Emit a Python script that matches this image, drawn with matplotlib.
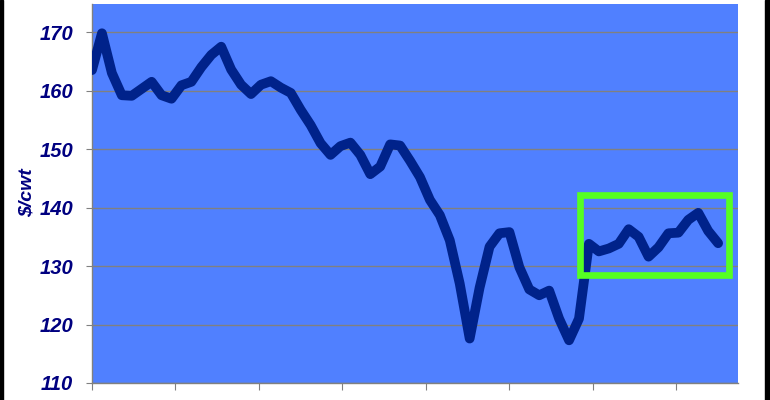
import matplotlib
matplotlib.use("Agg")
import matplotlib.pyplot as plt
from matplotlib.patches import Rectangle

# Weekly price, $/cwt
prices = [
    163.5, 169.8, 163.0, 159.2, 159.1, 160.3, 161.5, 159.2, 158.6, 160.9,
    161.5, 164.0, 166.1, 167.5, 163.6, 161.0, 159.4, 161.0, 161.6, 160.5,
    159.6, 156.7, 154.1, 151.0, 149.0, 150.5, 151.1, 149.0, 145.7, 147.0,
    150.8, 150.6, 148.0, 145.2, 141.3, 138.7, 134.4, 127.0, 117.6, 126.3,
    133.3, 135.6, 135.8, 129.8, 126.0, 125.0, 125.8, 121.0, 117.3, 121.0,
    133.8, 132.5, 133.0, 133.8, 136.3, 135.0, 131.6, 133.2, 135.6, 135.7,
    137.9, 139.1, 136.0, 133.9,
]
weeks = list(range(len(prices)))

# x axis ticks (labels are cut off at the bottom of the picture)
tick_pos = [0, 8.4, 16.8, 25.2, 33.6, 42.0, 50.4, 58.8]
tick_labels = ["Jan-15", "Mar-15", "May-15", "Jul-15", "Sep-15", "Nov-15", "Jan-16", "Mar-16"]
y_ticks = [110, 120, 130, 140, 150, 160, 170]

# highlighted recent range
box_weeks = (49.1, 64.1)
box_price = (128.5, 142.1)

navy = "#000080"
font = ["Liberation Sans", "DejaVu Sans"]

fig = plt.figure(figsize=(7.7, 4.0), dpi=100)
fig.patch.set_facecolor("white")
ax = fig.add_axes([92 / 770, 17 / 400, (738 - 92) / 770, (396 - 17) / 400])
ax.set_facecolor("#5080ff")

ax.plot(weeks, prices, color="#00228a", lw=7,
        solid_joinstyle="round", solid_capstyle="round", zorder=3)

ax.add_patch(Rectangle((box_weeks[0], box_price[0]),
                       box_weeks[1] - box_weeks[0], box_price[1] - box_price[0],
                       fill=False, edgecolor="#55ff22", lw=4.8, zorder=4))

ax.set_xlim(0, 65)
ax.set_ylim(110, 174.8)
ax.set_yticks(y_ticks)
ax.set_xticks(tick_pos)
ax.set_xticklabels(tick_labels, rotation=90, color=navy, fontsize=12,
                   fontweight="bold", family=font)
ax.grid(axis="y", color="#808080", lw=1.0)
ax.set_axisbelow(True)

for s in ["top", "right"]:
    ax.spines[s].set_visible(False)
for s in ["left", "bottom"]:
    ax.spines[s].set_color("#808080")
    ax.spines[s].set_linewidth(1.0)

ax.tick_params(axis="y", length=4.5, color="#808080", pad=9)
ax.tick_params(axis="x", length=5, color="#808080", pad=9)
for lbl in ax.get_yticklabels():
    lbl.set_color(navy)
    lbl.set_fontsize(14.5)
    lbl.set_fontweight("bold")
    lbl.set_fontstyle("italic")
    lbl.set_family(font)

fig.text(27 / 770, 193 / 400 * -1 + 1, "$/cwt", rotation=90, ha="center", va="center",
         color=navy, fontsize=14, fontweight="bold", fontstyle="italic", family=font)

# black frame edges at left and right of the picture
fig.patches.append(Rectangle((0, 0), 3 / 770, 1, transform=fig.transFigure,
                             color="black", figure=fig))
fig.patches.append(Rectangle((765 / 770, 0), 5 / 770, 1, transform=fig.transFigure,
                             color="black", figure=fig))

fig.savefig("out.png", dpi=100)
